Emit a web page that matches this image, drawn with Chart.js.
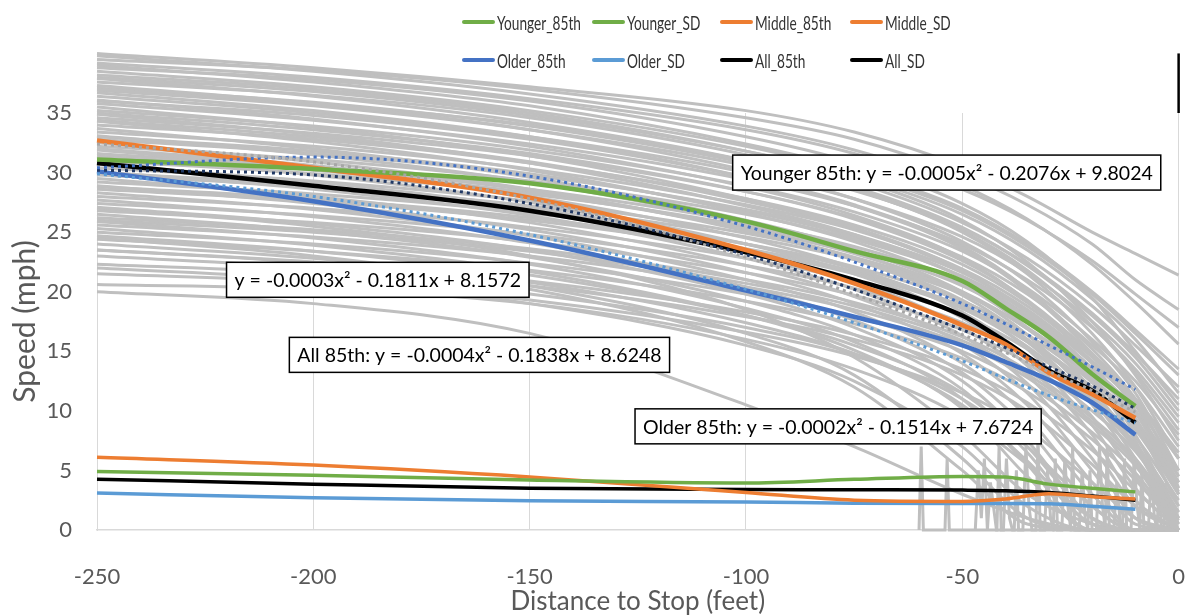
<!DOCTYPE html>
<html>
<head>
<meta charset="utf-8">
<script src="https://cdn.jsdelivr.net/npm/chart.js@4.4.0/dist/chart.umd.min.js"></script>
<style>
  html, body { margin: 0; padding: 0; background: #fff; }
  #wrap { position: relative; width: 1185px; height: 615px; }
  #legend { position: absolute; left: 0; top: 0; }
  .item { position: absolute; display: flex; align-items: center; height: 24px; margin-top: -12px;
          font: 19px Lato, sans-serif; color: #333; white-space: nowrap; }
  .swatch { width: 33px; height: 4px; margin-right: 2px; border-radius: 2px; }
  .name { display: inline-block; transform: scaleX(0.72); transform-origin: left center; }
</style>
</head>
<body>
<div id="wrap">
  <canvas id="speedChart" width="1185" height="615"></canvas>
  <div id="legend"></div>
</div>
<script>
// distance points (ft before the stop bar) used by the summary curves
const xGrid = [-250, -200, -150, -100, -75, -50, -40, -30, -20, -10];

const younger85 = [31.1, 30.3, 29.1, 25.9, 23.4, 20.9, 18.6, 16.2, 13.1, 10.4];
const middle85  = [32.7, 30.4, 27.9, 23.5, 20.7, 17.2, 15.6, 13.2, 11.4, 9.4];
const older85   = [30.1, 27.6, 24.3, 20.1, 17.9, 15.5, 14.1, 12.6, 10.7, 8.0];
const all85     = [30.8, 28.9, 26.8, 23.3, 21.0, 18.0, 15.8, 13.4, 11.7, 9.0];

const youngerSD = [4.9, 4.6, 4.2, 3.95, 4.25, 4.5, 4.45, 3.85, 3.5, 3.2];
const middleSD  = [6.1, 5.45, 4.45, 3.15, 2.5, 2.4, 2.6, 3.05, 2.8, 2.6];
const olderSD   = [3.1, 2.7, 2.45, 2.35, 2.25, 2.22, 2.22, 2.2, 2.0, 1.75];
const allSD     = [4.27, 3.85, 3.5, 3.4, 3.38, 3.35, 3.3, 3.15, 2.85, 2.5];

// fitted polynomial trend curves
const youngerFit = [30.4, 31.3, 29.7, 25.5, 22.5, 19.0, 17.3, 15.5, 13.7, 11.8];
const middleFit  = [32.4, 30.9, 27.8, 22.9, 19.8, 16.4, 14.9, 13.3, 11.7, 9.9];
const olderFit   = [29.9, 28.0, 24.8, 20.2, 17.4, 14.2, 12.7, 11.3, 10.1, 9.0];
const allFit     = [30.2, 29.8, 27.4, 23.1, 20.2, 16.8, 15.3, 13.7, 12.1, 10.2];

// individual vehicle speed traces
const traceGrid = [-250, -200, -150, -100, -75, -50, -35, -20, -10, 0];
const grayTraces = [
  [40.0, 38.8, 37.2, 35.2, 33.4, 30.5, 28.0, 25.0, 23.2, 21.4],
  [39.5, 38.6, 37.0, 34.6, 32.8, 29.8, 27.3, 24.0, 21.0, 18.5],
  [39.2, 38.0, 36.2, 33.6, 31.6, 28.6, 26.0, 22.6, 19.8, 17.0],
  [38.8, 37.8, 36.0, 33.0, 30.8, 27.4, 24.2, 19.5, 15.0, 10.5],
  [38.5, 37.2, 35.2, 32.2, 30.0, 26.8, 23.8, 19.8, 16.5, 13.0],
  [38.2, 37.0, 35.0, 31.8, 29.5, 26.0, 22.5, 17.5, 13.0, 7.5],
  [37.9, 36.4, 34.2, 31.0, 28.6, 25.0, 21.5, 16.5, 12.0, 6.0],
  [37.6, 36.5, 34.6, 31.5, 29.2, 25.8, 22.8, 18.8, 15.5, 12.0],
  [37.3, 35.8, 33.6, 30.2, 27.8, 24.2, 20.8, 15.8, 11.5, 5.0],
  [37.0, 35.8, 34.0, 31.0, 28.8, 25.4, 22.2, 18.0, 14.5, 10.0],
  [36.7, 35.2, 33.0, 29.6, 27.2, 23.6, 20.0, 14.8, 10.0, 3.0],
  [36.4, 35.0, 33.0, 30.0, 27.8, 24.6, 21.6, 17.5, 14.0, 9.5],
  [36.1, 34.5, 32.2, 28.8, 26.4, 22.8, 19.2, 14.0, 9.0, 2.0],
  [35.8, 34.4, 32.4, 29.4, 27.2, 24.0, 21.0, 17.0, 13.5, 9.0],
  [35.5, 33.8, 31.4, 27.8, 25.4, 21.8, 18.2, 13.0, 8.0, 1.0],
  [35.2, 33.9, 31.9, 28.9, 26.7, 23.4, 20.3, 16.0, 12.5, 8.0],
  [34.9, 33.2, 30.8, 27.2, 24.8, 21.2, 17.6, 12.4, 7.5, 0.5],
  [34.6, 33.3, 31.4, 28.4, 26.2, 22.9, 19.8, 15.5, 12.0, 7.0],
  [34.3, 32.6, 30.2, 26.6, 24.2, 20.6, 17.0, 11.8, 7.0, 0.0],
  [34.0, 32.8, 30.8, 27.8, 25.6, 22.3, 19.1, 14.8, 11.0, 6.0],
  [33.7, 32.0, 29.6, 26.0, 23.6, 20.0, 16.4, 11.0, 6.0, 0.0],
  [33.4, 32.2, 30.3, 27.3, 25.2, 21.9, 18.8, 14.5, 11.0, 6.5],
  [33.1, 31.5, 29.2, 25.7, 23.3, 19.7, 16.0, 10.5, 5.5, 0.0],
  [32.8, 31.6, 29.8, 26.9, 24.8, 21.6, 18.5, 14.2, 10.8, 6.0],
  [32.5, 30.9, 28.6, 25.1, 22.7, 19.0, 15.2, 9.5, 4.5, 0.0],
  [32.2, 31.1, 29.3, 26.5, 24.4, 21.3, 18.3, 14.0, 10.5, 5.0],
  [31.9, 30.3, 28.0, 24.5, 22.0, 18.3, 14.5, 8.8, 3.5, 0.0],
  [31.6, 30.4, 28.6, 25.8, 23.8, 20.8, 17.8, 13.5, 10.0, 4.5],
  [31.3, 29.8, 27.5, 24.0, 21.5, 17.8, 13.8, 8.0, 2.5, 0.0],
  [31.0, 29.9, 28.2, 25.5, 23.5, 20.5, 17.5, 13.3, 9.8, 4.0],
  [30.7, 29.2, 27.0, 23.4, 20.9, 17.0, 13.0, 7.0, 2.0, 0.0],
  [30.4, 29.3, 27.6, 24.9, 22.9, 19.9, 16.9, 12.7, 9.2, 3.5],
  [30.1, 28.6, 26.4, 22.8, 20.2, 16.3, 12.3, 6.0, 1.0, 0.0],
  [29.8, 28.8, 27.2, 24.6, 22.7, 19.8, 17.0, 13.0, 9.8, 5.0],
  [29.5, 28.0, 25.8, 22.2, 19.6, 15.6, 11.5, 5.0, 0.5, 0.0],
  [29.2, 28.2, 26.6, 24.0, 22.1, 19.2, 16.4, 12.4, 9.0, 4.0],
  [28.9, 27.4, 25.2, 21.6, 19.0, 14.8, 10.5, 4.0, 0.0, 0.0],
  [28.6, 27.6, 26.0, 23.4, 21.5, 18.6, 15.8, 11.8, 8.4, 3.0],
  [28.3, 26.9, 24.7, 21.0, 18.3, 14.0, 9.5, 3.0, 0.0, 0.0],
  [28.0, 27.0, 25.4, 22.8, 20.9, 18.0, 15.2, 11.2, 7.8, 2.5],
  [27.7, 26.3, 24.1, 20.4, 17.6, 13.2, 8.5, 2.0, 0.0, 0.0],
  [27.4, 26.4, 24.8, 22.2, 20.3, 17.4, 14.6, 10.6, 7.2, 2.0],
  [27.1, 25.7, 23.5, 19.8, 17.0, 12.5, 7.5, 1.0, 0.0, 0.0],
  [26.8, 25.8, 24.2, 21.6, 19.7, 16.8, 14.0, 10.0, 6.6, 1.5],
  [26.5, 25.1, 22.9, 19.2, 16.4, 11.8, 6.5, 0.5, 0.0, 0.0],
  [26.2, 25.2, 23.6, 21.0, 19.1, 16.2, 13.4, 9.4, 6.0, 1.0],
  [25.9, 24.5, 22.3, 18.6, 15.8, 11.0, 5.5, 0.0, 0.0, 0.0],
  [25.6, 24.6, 23.0, 20.4, 18.5, 15.6, 12.8, 8.8, 5.4, 0.5],
  [25.3, 23.9, 21.7, 18.0, 15.1, 10.2, 4.5, 0.0, 0.0, 0.0],
  [25.0, 24.0, 22.4, 19.8, 17.9, 15.0, 12.2, 8.2, 4.8, 0.0],
  [24.7, 23.4, 21.4, 18.0, 15.5, 11.5, 7.0, 1.0, 0.0, 0.0],
  [24.4, 23.4, 21.8, 19.2, 17.3, 14.4, 11.6, 7.6, 4.2, 0.0],
  [24.0, 22.8, 20.8, 17.4, 14.8, 10.5, 5.8, 0.5, 0.0, 0.0],
  [23.5, 22.5, 20.9, 18.3, 16.4, 13.5, 10.7, 6.7, 3.3, 0.0],
  [23.0, 22.0, 20.5, 17.9, 16.0, 13.0, 10.0, 5.5, 2.0, 0.0],
  [22.3, 21.5, 19.8, 17.0, 14.8, 11.0, 7.0, 2.0, 0.0, 0.0],
  [21.5, 20.8, 19.3, 16.6, 14.6, 11.5, 8.5, 4.0, 1.0, 0.0],
  [20.6, 20.2, 19.0, 16.0, 13.5, 9.5, 5.5, 1.0, 0.0, 0.0],
  [36.0, 34.8, 32.8, 29.6, 27.3, 23.8, 20.2, 15.2, 11.0, 4.5],
  [35.0, 33.6, 31.6, 28.4, 26.1, 22.6, 19.3, 14.6, 10.5, 3.5],
  [33.0, 31.8, 29.9, 26.8, 24.6, 21.2, 18.0, 13.6, 10.0, 4.0],
  [32.0, 30.6, 28.5, 25.2, 22.8, 19.3, 15.8, 10.8, 6.8, 1.0],
  [30.0, 28.9, 27.0, 24.0, 21.9, 18.6, 15.4, 10.9, 7.2, 1.5],
  [38.0, 36.8, 34.8, 31.8, 29.7, 26.5, 23.5, 19.4, 16.0, 11.5],
  [39.0, 37.6, 35.6, 32.4, 30.2, 27.0, 24.0, 20.0, 16.8, 13.5],
  [36.9, 35.6, 33.6, 30.6, 28.5, 25.3, 22.3, 18.2, 14.8, 11.0],
  [22.0, 21.0, 19.0, 15.5, 12.5, 7.0, 2.0, 0.0, 0.0, 0.0],
  [27.0, 25.5, 23.0, 18.5, 14.5, 8.0, 3.0, 0.5, 0.0, 0.0],
  [24.5, 23.0, 20.5, 16.5, 13.0, 6.0, 1.0, 0.0, 0.0, 0.0],
  [23.5, 22.4, 20.2, 15.8, 12.0, 5.0, 0.5, 0.0, 0.0, 0.0],
  [20.0, 19.0, 16.5, 10.5, 7.0, 3.0, 1.0, 0.0, 0.0, 0.0],
  [39.8, 38.5, 36.6, 33.9, 31.9, 28.9, 26.1, 22.3, 19.1, 15.6],
  [37.1, 35.9, 33.9, 30.8, 28.6, 25.1, 21.8, 17.1, 13.2, 8.4],
  [34.4, 33.0, 30.9, 27.6, 25.3, 21.7, 18.3, 13.5, 9.4, 3.2],
  [31.4, 30.2, 28.3, 25.3, 23.2, 20.0, 16.9, 12.6, 9.0, 3.0],
  [28.8, 27.8, 26.2, 23.6, 21.7, 18.8, 16.0, 12.0, 8.6, 3.6],
  [26.0, 25.0, 23.4, 20.7, 18.8, 15.9, 13.1, 9.1, 5.7, 0.8]
];

// creeping / stopped jitter near the stop bar
const stopNoiseX = [-60, -59.5, -59, -54, -53.5, -53, -42, -41.5, -41, -38, -37.5, -37,
                    -33, -32.5, -32, -29, -28.5, -28, -25, -24.5, -24, -21, -20.5, -20,
                    -17, -16.5, -16, -13, -12.5, -12, -9, -8.5, -8, -5, -4.5, -4];
const stopNoiseY = [0, 7, 0, 0, 6, 0, 0, 7, 0, 0, 5, 0,
                    0, 8, 0, 0, 6, 0, 0, 7, 0, 0, 5, 0,
                    0, 7, 0, 0, 6, 0, 0, 5, 0, 0, 4, 0];
const creepX = [-47, -46.3, -45.6, -44.9, -44.2, -43.5, -42.8, -42.1,
                -40.5, -39.8, -39.1, -38.4,
                -36, -35.3, -34.6, -33.9, -31, -30.3, -29.6, -28.9,
                -27, -26.3, -25.6, -24.9, -23, -22.3, -21.6, -20.9,
                -19, -18.3, -17.6, -16.9, -15, -14.3, -13.6, -12.9,
                -11, -10.3, -9.6, -8.9, -7, -6.3, -5.6, -4.9, -3.5, -2.8];
const creepY = [0, 5, 1, 6, 0, 4, 2, 0,
                0, 6, 1, 0,
                0, 7, 2, 0, 0, 5, 1, 0,
                0, 6, 2, 0, 0, 5, 1, 0,
                0, 7, 2, 0, 0, 4, 1, 0,
                0, 6, 2, 0, 0, 5, 1, 0, 0, 4];

const xTicks = [-250, -200, -150, -100, -50, 0];

const noteTexts = [
  'Younger 85th: y = -0.0005x\u00b2 - 0.2076x + 9.8024',
  'y = -0.0003x\u00b2 - 0.1811x + 8.1572',
  'All 85th: y = -0.0004x\u00b2 - 0.1838x + 8.6248',
  'Older 85th: y = -0.0002x\u00b2 - 0.1514x + 7.6724'
];

const pts = (xs, ys) => xs.map((x, i) => ({ x, y: ys[i] }));

const namedSeries = [
  { label: 'Younger_85th', values: younger85, color: '#70ad47', width: 4.5 },
  { label: 'Younger_SD',   values: youngerSD, color: '#70ad47', width: 3.5 },
  { label: 'Middle_85th',  values: middle85,  color: '#ed7d31', width: 4.5 },
  { label: 'Middle_SD',    values: middleSD,  color: '#ed7d31', width: 3.5 },
  { label: 'Older_85th',   values: older85,   color: '#4472c4', width: 4.5 },
  { label: 'Older_SD',     values: olderSD,   color: '#5b9bd5', width: 3.5 },
  { label: 'All_85th',     values: all85,     color: '#000000', width: 4.5 },
  { label: 'All_SD',       values: allSD,     color: '#000000', width: 3.5 }
];

const fitSeries = [
  { values: middleFit,  color: '#a6a6a6' },
  { values: olderFit,   color: '#5b9bd5' },
  { values: youngerFit, color: '#4472c4' },
  { values: allFit,     color: '#203864' }
];

const datasets = [];

fitSeries.forEach(f => datasets.push({
  data: pts(xGrid, f.values),
  borderColor: f.color, borderWidth: 3, borderDash: [3, 4],
  cubicInterpolationMode: 'monotone', pointRadius: 0, order: 1, clip: false
}));

namedSeries.forEach(s => datasets.push({
  label: s.label,
  data: pts(xGrid, s.values),
  borderColor: s.color, backgroundColor: s.color, borderWidth: s.width,
  cubicInterpolationMode: 'monotone', pointRadius: 0, order: 2, clip: false
}));

grayTraces.forEach(t => datasets.push({
  data: pts(traceGrid, t),
  borderColor: '#bfbfbf', borderWidth: 3,
  cubicInterpolationMode: 'monotone', pointRadius: 0, order: 3, clip: false
}));

[[stopNoiseX, stopNoiseY], [creepX, creepY]].forEach(([xs, ys]) => datasets.push({
  data: pts(xs, ys),
  borderColor: '#bfbfbf', borderWidth: 3, tension: 0, pointRadius: 0, order: 3, clip: false
}));

// right edge mark + equation boxes
const frameAndNotes = {
  id: 'frameAndNotes',
  afterDatasetsDraw(chart, args, opts) {
    const { ctx, chartArea, scales: { x, y } } = chart;
    ctx.save();
    ctx.strokeStyle = '#000';
    ctx.lineWidth = 2.5;
    ctx.beginPath();
    ctx.moveTo(x.getPixelForValue(0), y.getPixelForValue(40));
    ctx.lineTo(x.getPixelForValue(0), chartArea.top);
    ctx.stroke();

    ctx.font = '19.5px Lato';
    ctx.textAlign = 'center';
    ctx.textBaseline = 'middle';
    noteTexts.forEach((text, i) => {
      const [vx, vy] = opts.anchors[i];
      const cx = x.getPixelForValue(vx);
      const cy = y.getPixelForValue(vy);
      const w = ctx.measureText(text).width + 16;
      const h = 35;
      ctx.fillStyle = '#fff';
      ctx.fillRect(cx - w / 2, cy - h / 2, w, h);
      ctx.strokeStyle = '#000';
      ctx.lineWidth = 1.5;
      ctx.strokeRect(cx - w / 2, cy - h / 2, w, h);
      ctx.fillStyle = '#000';
      ctx.fillText(text, cx, cy + 1);
    });
    ctx.restore();
  }
};

Chart.defaults.font.family = 'Lato';

const chart = new Chart(document.getElementById('speedChart'), {
  type: 'line',
  data: { datasets },
  options: {
    responsive: false,
    animation: false,
    events: [],
    layout: { padding: { top: 113, left: 0, right: 6, bottom: 0 } },
    plugins: {
      legend: { display: false },
      tooltip: { enabled: false },
      frameAndNotes: {
        anchors: [[-53.6, 30.0], [-185.1, 21.0], [-161.6, 14.7], [-78.7, 8.7]]
      }
    },
    scales: {
      x: {
        type: 'linear',
        min: -250, max: 0,
        afterBuildTicks: s => { s.ticks = xTicks.map(v => ({ value: v })); },
        afterFit: s => { s.height = 85; },
        grid: { display: true, color: '#d9d9d9', lineWidth: 1, drawTicks: true,
                tickLength: 34, tickColor: 'rgba(0,0,0,0)' },
        border: { display: true, color: '#d9d9d9', width: 1.5 },
        ticks: { color: '#595959', font: { size: 22 }, padding: 0, maxRotation: 0 },
        title: { display: true, text: 'Distance to Stop (feet)', color: '#595959',
                 font: { size: 26 }, padding: { top: 0, bottom: -2 } }
      },
      y: {
        min: 0, max: 35,
        afterFit: s => { s.width = 97; },
        grid: { display: false, drawTicks: false },
        border: { display: true, color: '#d9d9d9', width: 1 },
        ticks: { stepSize: 5, color: '#595959', font: { size: 22 }, padding: 25 },
        title: { display: true, text: 'Speed (mph)', color: '#595959',
                 font: { size: 30 }, padding: { top: 7, bottom: 0 } }
      }
    }
  },
  plugins: [frameAndNotes]
});

// two-row legend for the named series
const legendBox = document.getElementById('legend');
const colLeft = [462, 592, 720, 850];
const rowMid = [22, 60];
namedSeries.forEach((s, i) => {
  const item = document.createElement('div');
  item.className = 'item';
  item.style.left = colLeft[i % 4] + 'px';
  item.style.top = rowMid[Math.floor(i / 4)] + 'px';
  const sw = document.createElement('span');
  sw.className = 'swatch';
  sw.style.background = s.color;
  const name = document.createElement('span');
  name.className = 'name';
  name.textContent = s.label;
  item.appendChild(sw);
  item.appendChild(name);
  legendBox.appendChild(item);
});
</script>
</body>
</html>
